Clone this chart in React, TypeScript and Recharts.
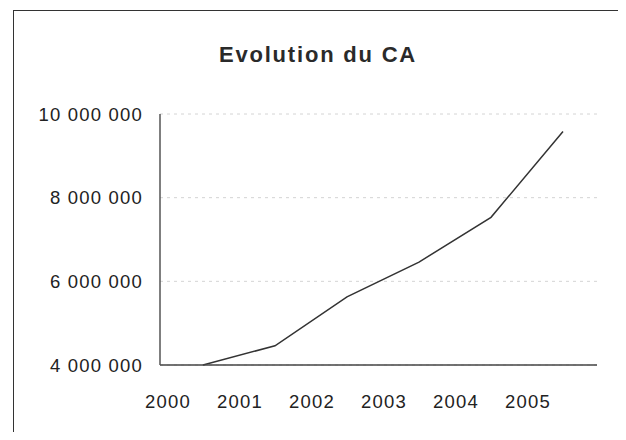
import React from 'react';
import { LineChart, Line, XAxis, YAxis, CartesianGrid } from 'recharts';

// chiffre d'affaires annuel
const years = ['2000', '2001', '2002', '2003', '2004', '2005'];
const caValues = [4000000, 4460000, 5630000, 6460000, 7530000, 9580000];
const yTicks = [4000000, 6000000, 8000000, 10000000];

const data = years.map((year, i) => ({ year, ca: caValues[i] }));

const fmt = (v: number) => String(v).replace(/\B(?=(\d{3})+(?!\d))/g, ' ');

const font = '"Liberation Sans", Arial, sans-serif';

const App: React.FC = () => {
  return (
    <div style={{ position: 'relative', width: 626, height: 440, margin: -8, background: '#fff', overflow: 'hidden', fontFamily: font }}>
      <div style={{ position: 'absolute', left: 13, top: 10, width: 604, height: 440, border: '1.5px solid #333', borderBottom: 'none' }} />
      <div
        style={{
          position: 'absolute', left: 168, top: 44, width: 300, textAlign: 'center',
          fontSize: 22, lineHeight: '22px', fontWeight: 'bold', letterSpacing: 1.8, color: '#2a2a2a',
        }}
      >
        Evolution du CA
      </div>
      <LineChart
        width={626}
        height={440}
        data={data}
        margin={{ top: 114, right: 29, bottom: 35, left: 20 }}
        style={{ position: 'absolute', left: 0, top: 0 }}
      >
        <CartesianGrid vertical={false} stroke="#d4d4d4" strokeDasharray="3 4" />
        <XAxis
          dataKey="year"
          height={40}
          padding={{ left: 43, right: 34 }}
          axisLine={{ stroke: '#444', strokeWidth: 1.5 }}
          tickLine={false}
          tickSize={0}
          tickMargin={30}
          tick={{ dx: -35, fill: '#222', fontSize: 18.5, letterSpacing: 1.2, fontFamily: font }}
        />
        <YAxis
          width={140}
          domain={[4000000, 10000000]}
          ticks={yTicks}
          tickFormatter={fmt}
          axisLine={{ stroke: '#555', strokeWidth: 1.5 }}
          tickLine={false}
          tickSize={0}
          tickMargin={17}
          tick={{ fill: '#222', fontSize: 18.5, letterSpacing: 1.2, fontFamily: font }}
        />
        <Line
          type="linear"
          dataKey="ca"
          stroke="#333"
          strokeWidth={1.5}
          dot={false}
          isAnimationActive={false}
        />
      </LineChart>
    </div>
  );
};

export default App;
